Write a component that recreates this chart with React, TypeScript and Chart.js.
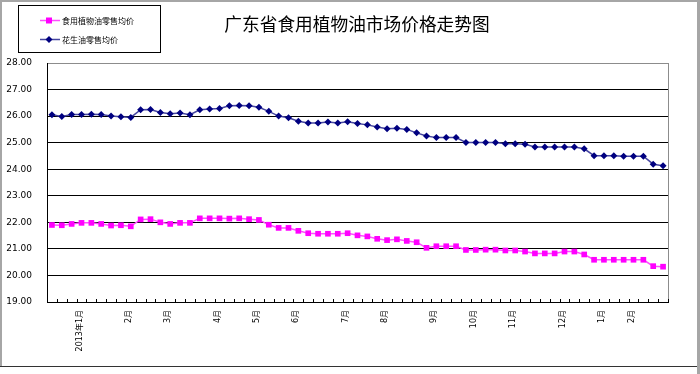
import React, { useEffect, useRef } from 'react';
import { Chart, registerables } from 'chart.js';

Chart.register(...registerables);

const TITLE = '广东省食用植物油市场价格走势图';
const SERIES_NAMES = ['食用植物油零售均价', '花生油零售均价'];

// 食用植物油零售均价 (weekly)
const oilPrice = [
  21.90, 21.89, 21.94, 21.98, 21.98, 21.94, 21.88, 21.89, 21.85, 22.11,
  22.12, 22.00, 21.94, 21.98, 21.98, 22.15, 22.15, 22.15, 22.14, 22.15,
  22.12, 22.09, 21.91, 21.79, 21.79, 21.68, 21.59, 21.57, 21.57, 21.57,
  21.59, 21.51, 21.47, 21.38, 21.33, 21.36, 21.30, 21.25, 21.04, 21.10,
  21.10, 21.10, 20.96, 20.96, 20.97, 20.97, 20.94, 20.94, 20.90, 20.83,
  20.83, 20.83, 20.90, 20.90, 20.79, 20.59, 20.59, 20.59, 20.59, 20.59,
  20.59, 20.35, 20.33,
];

// 花生油零售均价 (weekly)
const peanutPrice = [
  26.05, 25.99, 26.06, 26.06, 26.07, 26.06, 26.00, 25.98, 25.95, 26.24,
  26.25, 26.14, 26.09, 26.12, 26.05, 26.24, 26.27, 26.29, 26.39, 26.40,
  26.39, 26.33, 26.18, 26.00, 25.94, 25.81, 25.74, 25.74, 25.78, 25.74,
  25.79, 25.72, 25.67, 25.59, 25.52, 25.54, 25.50, 25.37, 25.25, 25.19,
  25.19, 25.19, 25.01, 25.01, 25.01, 25.01, 24.96, 24.96, 24.94, 24.84,
  24.84, 24.84, 24.84, 24.84, 24.77, 24.51, 24.51, 24.51, 24.49, 24.49,
  24.49, 24.19, 24.13,
];

const monthTickIndex = [3, 8, 12, 17, 21, 25, 30, 34, 39, 43, 47, 52, 56, 59];
const monthTickText = ['2013年1月', '2月', '3月', '4月', '5月', '6月', '7月', '8月', '9月', '10月', '11月', '12月', '1月', '2月'];

const Y_MIN = 19;
const Y_MAX = 28;
const Y_STEP = 1;

const categories = oilPrice.map((_, i) => {
  const k = monthTickIndex.indexOf(i);
  return k >= 0 ? monthTickText[k] : '';
});

const PINK = '#ff00ff';
const PINK_LINE = '#ff4dff';
const NAVY = '#000080';
const NAVY_LINE = '#4646a0';

const decorPlugin = {
  id: 'decor',
  beforeDraw(chart: any) {
    const { ctx, width, height } = chart;
    ctx.save();
    ctx.fillStyle = '#ffffff';
    ctx.fillRect(0, 0, width, height);
    ctx.restore();
  },
  afterDraw(chart: any) {
    const { ctx, chartArea: a, scales } = chart;
    const x = scales.x;
    ctx.save();
    // plot area gray border (right)
    ctx.strokeStyle = '#8c8c8c';
    ctx.lineWidth = 1;
    ctx.beginPath();
    ctx.moveTo(Math.round(a.right) + 0.5, a.top);
    ctx.lineTo(Math.round(a.right) + 0.5, a.bottom);
    ctx.stroke();

    // inside tick marks at category boundaries
    ctx.strokeStyle = '#000';
    const n = categories.length;
    const half = (x.getPixelForValue(1) - x.getPixelForValue(0)) / 2;
    ctx.beginPath();
    for (let i = 0; i <= n; i++) {
      const px = Math.round(x.getPixelForValue(i) - half) + 0.5;
      ctx.moveTo(px, a.bottom - 3);
      ctx.lineTo(px, a.bottom + 1);
    }
    ctx.stroke();

    // outer frame
    ctx.fillStyle = '#a6a6a6';
    ctx.fillRect(0, 0, 697, 2);
    ctx.fillRect(0, 0, 2, 366);
    ctx.fillRect(697, 0, 3, 374);
    ctx.fillStyle = '#333333';
    ctx.fillRect(0, 366, 697, 1);

    // title
    ctx.fillStyle = '#000';
    ctx.font = '17.7px "Noto Sans CJK SC"';
    ctx.textAlign = 'center';
    ctx.textBaseline = 'middle';
    ctx.fillText(TITLE, 357, 24);

    // legend
    ctx.strokeStyle = '#000';
    ctx.lineWidth = 1;
    ctx.strokeRect(18.5, 5.5, 142, 47);
    const rows = [
      { y: 20.5, line: PINK_LINE, color: PINK, shape: 'rect', name: SERIES_NAMES[0] },
      { y: 39.5, line: NAVY_LINE, color: NAVY, shape: 'diamond', name: SERIES_NAMES[1] },
    ];
    rows.forEach((r) => {
      ctx.strokeStyle = r.line;
      ctx.lineWidth = 1.5;
      ctx.beginPath();
      ctx.moveTo(40, r.y);
      ctx.lineTo(60, r.y);
      ctx.stroke();
      ctx.fillStyle = r.color;
      if (r.shape === 'rect') {
        ctx.fillRect(46, r.y - 3, 6, 6);
      } else {
        ctx.beginPath();
        ctx.moveTo(49 - 3.5, r.y);
        ctx.lineTo(49, r.y - 3.5);
        ctx.lineTo(49 + 3.5, r.y);
        ctx.lineTo(49, r.y + 3.5);
        ctx.closePath();
        ctx.fill();
      }
      ctx.fillStyle = '#000';
      ctx.font = '8px "Noto Sans CJK SC"';
      ctx.textAlign = 'left';
      ctx.textBaseline = 'middle';
      ctx.fillText(r.name, 62, r.y);
    });
    ctx.restore();
  },
};

export default function App() {
  const ref = useRef<HTMLCanvasElement | null>(null);

  useEffect(() => {
    if (!ref.current) return;
    const chart = new Chart(ref.current, {
      type: 'line',
      data: {
        labels: categories,
        datasets: [
          {
            label: SERIES_NAMES[0],
            data: oilPrice,
            borderColor: PINK_LINE,
            borderWidth: 1.5,
            pointStyle: 'rect',
            pointRadius: 4,
            pointBackgroundColor: PINK,
            pointBorderColor: PINK,
            pointBorderWidth: 0,
            tension: 0,
          },
          {
            label: SERIES_NAMES[1],
            data: peanutPrice,
            borderColor: NAVY_LINE,
            borderWidth: 1.5,
            pointStyle: 'rectRot',
            pointRadius: 3.5,
            pointBackgroundColor: NAVY,
            pointBorderColor: NAVY,
            pointBorderWidth: 0,
            tension: 0,
          },
        ],
      },
      options: {
        responsive: false,
        animation: false,
        events: [],
        layout: { padding: { top: 63, right: 32, left: 0, bottom: 0 } },
        plugins: {
          legend: { display: false },
          title: { display: false },
          tooltip: { enabled: false },
        },
        scales: {
          x: {
            type: 'category',
            offset: true,
            grid: { display: false, drawTicks: false, offset: true },
            border: { display: true, color: '#000', width: 1 },
            ticks: {
              autoSkip: false,
              maxRotation: 90,
              minRotation: 90,
              padding: 8,
              labelOffset: -2,
              color: '#000',
              font: { family: '"DejaVu Sans", "Noto Sans CJK SC"', size: 8 },
            },
            afterFit(scale: any) {
              scale.height = 72;
            },
          },
          y: {
            min: Y_MIN,
            max: Y_MAX,
            grid: {
              drawTicks: false,
              color: (c: any) => (c.tick && c.tick.value === Y_MAX ? '#8c8c8c' : '#000'),
              lineWidth: 1,
            },
            border: { display: true, color: '#000', width: 1 },
            ticks: {
              stepSize: Y_STEP,
              padding: 15,
              color: '#000',
              font: { family: '"DejaVu Sans"', size: 9 },
              callback: (v: any) => Number(v).toFixed(2),
            },
            afterFit(scale: any) {
              scale.width = 47;
            },
          },
        },
      },
      plugins: [decorPlugin],
    });
    return () => chart.destroy();
  }, []);

  return (
    <div style={{ position: 'absolute', left: 0, top: 0, width: 700, height: 374 }}>
      <canvas ref={ref} width={700} height={374} style={{ width: 700, height: 374 }} />
    </div>
  );
}
